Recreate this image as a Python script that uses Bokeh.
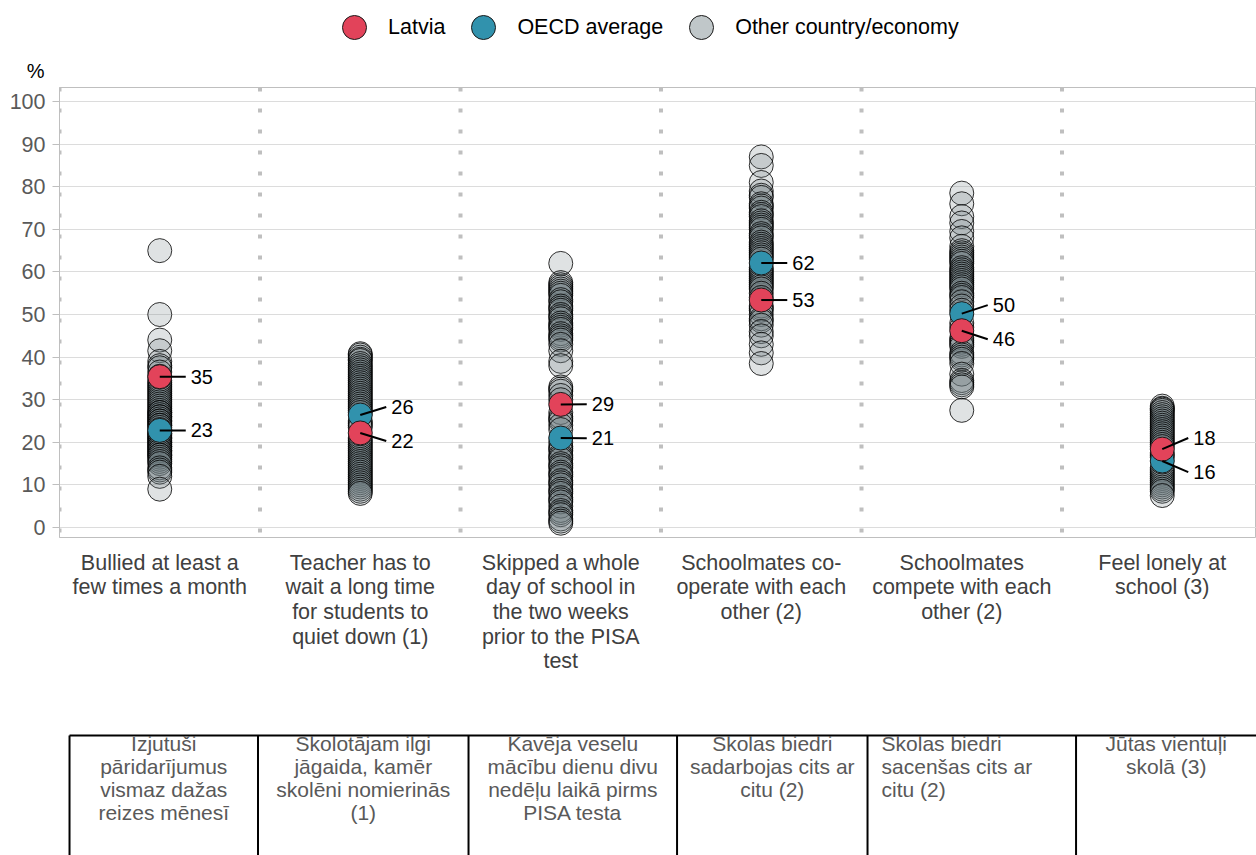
from bokeh.plotting import figure
from bokeh.models import ColumnDataSource, Range1d, FixedTicker, Legend, LegendItem, Span
from bokeh.layouts import column
from bokeh.embed import file_html
from bokeh.resources import INLINE
from bokeh.core.properties import value

# ---------------- data ----------------
categories = [
    "Bullied at least a\nfew times a month",
    "Teacher has to\nwait a long time\nfor students to\nquiet down (1)",
    "Skipped a whole\nday of school in\nthe two weeks\nprior to the PISA\ntest",
    "Schoolmates co-\noperate with each\nother (2)",
    "Schoolmates\ncompete with each\nother (2)",
    "Feel lonely at\nschool (3)",
]
categories_lv = [
    "Izjutuši\npāridarījumus\nvismaz dažas\nreizes mēnesī",
    "Skolotājam ilgi\njāgaida, kamēr\nskolēni nomierinās\n(1)",
    "Kavēja veselu\nmācību dienu divu\nnedēļu laikā pirms\nPISA testa",
    "Skolas biedri\nsadarbojas cits ar\ncitu (2)",
    "Skolas  biedri\nsacenšas cits ar\ncitu (2)",
    "Jūtas vientuļi\nskolā (3)",
]
latvia = [35.4, 22.2, 28.9, 53.4, 46.2, 18.4]
oecd = [22.8, 26.4, 21.0, 62.1, 50.2, 15.6]

others0 = [65, 50, 44, 41.5, 39, 38, 37.5, 36.5, 35.5, 34.5, 34, 33.5, 33, 32.5, 32, 31.5, 31,
           30.5, 30, 29.5, 29, 28.5, 28, 27.5, 27, 27, 26.5, 26, 26, 25.5, 25, 25, 24.5, 24, 24,
           23.5, 23, 22.5, 22, 22, 21.5, 21, 21, 20.5, 20, 20, 19.5, 19, 19, 18.5, 18, 18, 17.5,
           17, 17, 16.5, 16, 15.5, 15, 14, 13.5, 13, 12, 9]
others1 = [40.8, 40.5, 40, 39.5, 39.2, 38.5, 38, 37.5, 37, 36.5, 36, 35.5, 35, 34.5, 34, 33.5, 33,
           32.5, 32, 31.5, 31, 30.5, 30, 29.5, 29, 28.5, 28, 27.5, 27, 25, 24.5, 24, 23.5, 21, 20.5,
           20, 19.5, 19, 18.5, 18, 17.5, 17, 16.5, 16, 15.5, 15, 14.5, 14, 13.5, 13, 12.5, 12, 11.5,
           11, 10.5, 10, 9.5, 9, 8.5, 8]
others2 = [62, 57.5, 57, 56.5, 56, 55.5, 55, 54.5, 53.5, 53, 52, 51.5, 51, 50, 49.5, 49, 48, 47.5,
           47, 46.5, 45.5, 45, 44.5, 44, 43, 41.5, 39, 38, 33, 32.5, 32, 31, 30, 27, 26, 25.5, 25,
           24, 23, 20, 19, 18.5, 18, 17, 16.5, 16, 15, 14.5, 14, 13, 12.5, 12, 11, 10.5, 10, 9,
           8.5, 8, 7, 6.5, 6, 5, 4, 3.5, 3, 2, 1.5, 1]
others3 = [87, 85, 81, 79, 78, 77.5, 76, 75.5, 75, 74, 73.5, 73, 72, 71.5, 71, 70.5, 70, 69, 68.5,
           68, 67, 66.5, 66, 65.5, 65, 64.5, 64, 63.5, 63, 61, 60.5, 60, 59.5, 59, 58.5, 58, 57.5,
           57, 56.5, 56, 55, 54, 52, 51.5, 51, 50, 49, 48.5, 47.5, 46, 45, 43, 41, 38.5]
others4 = [78.5, 76, 73, 71.5, 69.5, 68, 66, 65, 64.5, 64, 63.5, 63, 62.5, 62, 61, 60.5, 60, 59.5,
           59, 58.5, 58, 57.5, 57, 56.5, 56, 55, 54.5, 54, 53, 52, 51, 48, 47, 44.5, 44, 43.5, 43,
           42.5, 41, 40.5, 40, 39.5, 38.5, 36, 34.5, 34, 33.5, 33, 27.5]
others5 = [28.5, 28, 27.8, 27.5, 27, 26.5, 26, 25.5, 25, 24.5, 24, 23.5, 23, 22.5, 22, 21.5, 21,
           20.5, 20, 19.5, 19, 17.5, 17, 16.5, 14, 13.5, 13, 12.5, 12, 11.5, 11, 10.5, 10, 9.5, 9,
           8.5, 7.5]
others = [others0, others1, others2, others3, others4, others5]

y_ticks = [0, 10, 20, 30, 40, 50, 60, 70, 80, 90, 100]
unit_label = "%"

# ---------------- style ----------------
FONT = "Liberation Sans"
RED = "#e2435a"
TEAL = "#3192ad"
GREY = "#6f7c80"
W = 1256
X_END = 5.47
TXT = "21.5px"
HH = 86
HP = 453

idx = list(range(len(categories)))

# ---------------- header (legend and unit) ----------------
h = figure(width=W, height=HH, x_range=Range1d(0, 1), y_range=Range1d(0, HH),
           output_backend="svg", toolbar_location=None,
           min_border_left=59, min_border_right=0, min_border_top=0, min_border_bottom=0)
h.xaxis.visible = False
h.grid.visible = False
h.outline_line_color = None
h.yaxis.ticker = FixedTicker(ticks=[16])
h.yaxis.major_label_overrides = {16: unit_label}
h.yaxis.major_label_text_font = FONT
h.yaxis.major_label_text_font_size = "20px"
h.yaxis.major_label_text_color = "black"
h.yaxis.major_label_standoff = 9
h.yaxis.major_tick_line_color = None
h.yaxis.minor_tick_line_color = None
h.yaxis.axis_line_color = None
# legend keys: zero-size markers, so only their legend swatches are visible
d_lv = h.scatter([0], [0], size=0, fill_color=RED, line_color="#1a1a1a", line_width=1)
d_oe = h.scatter([0], [0], size=0, fill_color=TEAL, line_color="#1a1a1a", line_width=1)
d_o = h.scatter([0], [0], size=0, fill_color="#c0c7c9", line_color="#1a1a1a", line_width=1)
legend = Legend(items=[LegendItem(label="Latvia", renderers=[d_lv]),
                       LegendItem(label="OECD average", renderers=[d_oe]),
                       LegendItem(label="Other country/economy", renderers=[d_o])],
                location=(265, 29), orientation="horizontal", glyph_width=60, glyph_height=60,
                label_standoff=4, spacing=8, padding=0, margin=0, border_line_color=None,
                background_fill_alpha=0, label_text_font=FONT, label_text_font_size=TXT,
                label_text_color="black")
h.add_layout(legend)

# ---------------- main plot ----------------
p = figure(width=W, height=HP, x_range=Range1d(-0.5, X_END), y_range=Range1d(-2.35, 103.3),
           output_backend="svg", toolbar_location=None,
           min_border_left=59, min_border_right=0, min_border_top=1, min_border_bottom=2)
p.xaxis.visible = False
p.xgrid.visible = False
p.ygrid.grid_line_color = "#dcdcdc"
p.ygrid.ticker = FixedTicker(ticks=y_ticks)
p.yaxis.ticker = FixedTicker(ticks=y_ticks)
p.yaxis.minor_tick_line_color = None
p.yaxis.major_tick_out = 7
p.yaxis.major_tick_in = 0
p.yaxis.major_tick_line_color = "#bfbfbf"
p.yaxis.axis_line_color = "#bfbfbf"
p.yaxis.major_label_text_font = FONT
p.yaxis.major_label_text_font_size = TXT
p.yaxis.major_label_text_color = "#595959"
p.yaxis.major_label_standoff = 7
p.outline_line_color = "#bfbfbf"
p.background_fill_color = "white"

for k in range(len(categories)):
    p.add_layout(Span(location=k - 0.5, dimension="height", line_color="#bfbfbf",
                      line_width=4, line_dash="4 17"))

ox, oy = [], []
for k, vals in enumerate(others):
    ox += [k] * len(vals)
    oy += vals
src_o = ColumnDataSource(dict(x=ox, y=oy))
p.scatter("x", "y", source=src_o, size=24, fill_color=GREY, fill_alpha=0.22,
          line_color="black", line_alpha=0.8, line_width=1)
p.scatter(idx, oecd, size=24, fill_color=TEAL, line_color="#1a1a1a", line_width=1)
p.scatter(idx, latvia, size=24, fill_color=RED, line_color="#1a1a1a", line_width=1)

# value labels with leader lines (labels pushed apart when closer than 8 points)
lx, ly, lv_y, lt = [], [], [], []
for k in idx:
    a, b = latvia[k], oecd[k]
    if abs(a - b) < 8:
        mid = (a + b) / 2
        la, lb = (mid + 4, mid - 4) if a >= b else (mid - 4, mid + 4)
    else:
        la, lb = a, b
    for v, l in ((a, la), (b, lb)):
        lx.append(k)
        lv_y.append(v)
        ly.append(l)
        lt.append(f"{round(v):d}")
lead = 26 / 200.5
src_l = ColumnDataSource(dict(x=lx, v=lv_y, y=ly, x1=[x + lead for x in lx], t=lt))
p.segment(x0="x", y0="v", x1="x1", y1="y", source=src_l, line_color="black", line_width=2)
p.text(x="x", y="y", text="t", source=src_l, x_offset=31, text_align="left",
       text_baseline="middle", text_font=value(FONT), text_font_size=value("20px"),
       text_color="black")

# ---------------- category labels & Latvian table ----------------
H2 = 855 - HH - HP
b = figure(width=W, height=H2, x_range=Range1d(-0.5, X_END), y_range=Range1d(H2, 0),
           output_backend="svg", toolbar_location=None,
           min_border_left=59, min_border_right=0, min_border_top=0, min_border_bottom=0)
b.axis.visible = False
b.grid.visible = False
b.outline_line_color = None

b.text(x=idx, y=[11] * len(idx), text=categories, text_align="center", text_baseline="top",
       text_font=value(FONT), text_font_size=value(TXT), text_color="#404040",
       text_line_height=1.03)

table_edges = [-0.45, 0.49, 1.54, 2.58, 3.53, 4.57]
table_top = 196
b.segment(x0=table_edges, y0=[table_top] * 6, x1=table_edges, y1=[H2] * 6,
          line_color="black", line_width=2)
b.segment(x0=[table_edges[0]], y0=[table_top], x1=[X_END], y1=[table_top],
          line_color="black", line_width=2)

centers = [(table_edges[i] + table_edges[i + 1]) / 2 for i in range(5)] + [5.02]
center_cols = [0, 1, 2, 3, 5]
b.text(x=[centers[i] for i in center_cols], y=[192] * 5,
       text=[categories_lv[i] for i in center_cols], text_align="center", text_baseline="top",
       text_font=value(FONT), text_font_size=value("21px"), text_color="#595959",
       text_line_height=1.0)
b.text(x=[table_edges[4] + 0.07], y=[192], text=[categories_lv[4]], text_align="left",
       text_baseline="top", text_font=value(FONT), text_font_size=value("21px"),
       text_color="#595959", text_line_height=1.0)

layout = column(h, p, b, spacing=0)
open("out.html", "w").write(file_html(layout, INLINE))
